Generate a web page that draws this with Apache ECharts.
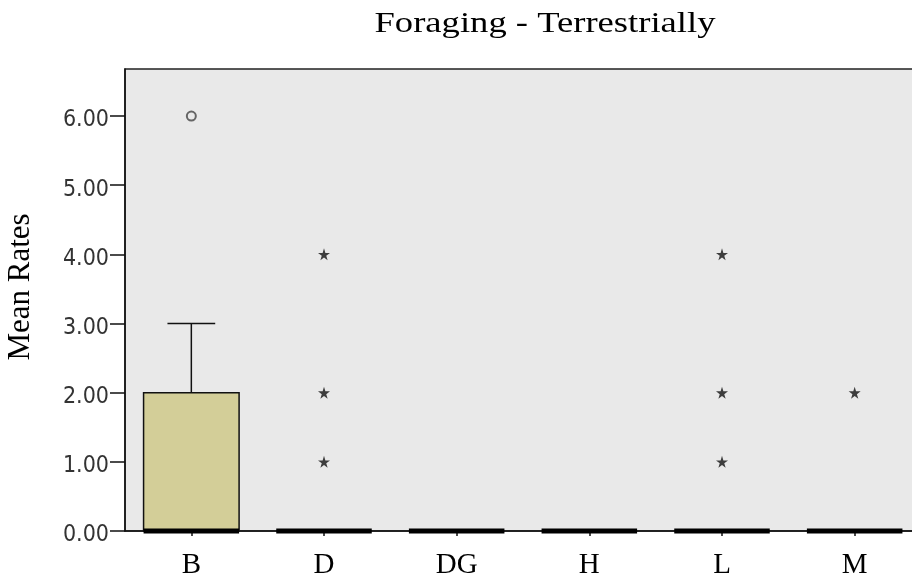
<!DOCTYPE html>
<html>
<head>
<meta charset="utf-8">
<script src="https://cdn.jsdelivr.net/npm/echarts@6/dist/echarts.min.js"></script>
<style>
  html, body { margin: 0; padding: 0; background: #ffffff; overflow: hidden; }
  #chart { width: 930px; height: 580px; }
</style>
</head>
<body>
<div id="chart"></div>
<script>
// Groups on the category axis
const categories = ['B', 'D', 'DG', 'H', 'L', 'M'];

// Box-plot statistics per group
const whiskerLow  = [0, 0, 0, 0, 0, 0];
const q1          = [0, 0, 0, 0, 0, 0];
const median      = [0, 0, 0, 0, 0, 0];
const q3          = [2, 0, 0, 0, 0, 0];
const whiskerHigh = [3, 0, 0, 0, 0, 0];

// Outliers: [group index, value]
const outliers = [[0, 6]];
// Extreme values (stars): [group index, value]
const extremes = [[1, 4], [1, 2], [1, 1], [4, 4], [4, 2], [4, 1], [5, 2]];

// Y tick values
const yTicks = [0, 1, 2, 3, 4, 5, 6];

const STAR = 'path://M50,0 L61,35 L98,35 L68,57 L79,91 L50,70 L21,91 L32,57 L2,35 L39,35 Z';
const SERIF = '"Liberation Serif", "Times New Roman", serif';
const NARROW = '"Liberation Sans Narrow", "Arial Narrow", "DejaVu Sans Condensed", sans-serif';

const boxData = categories.map((c, i) => [i, whiskerLow[i], q1[i], median[i], q3[i], whiskerHigh[i]]);

function renderBox(params, api) {
  const i = api.value(0);
  const wLo = api.value(1), lo = api.value(2), med = api.value(3), hi = api.value(4), wHi = api.value(5);
  const cx = api.coord([i, 0])[0];
  const band = api.size([1, 0])[0];
  const half = band * 0.36;
  const capHalf = half / 2;
  const yLo = api.coord([i, lo])[1];
  const yHi = api.coord([i, hi])[1];
  const yMed = api.coord([i, med])[1];
  const yWLo = api.coord([i, wLo])[1];
  const yWHi = api.coord([i, wHi])[1];
  const children = [];
  if (wHi > hi) {
    children.push({ type: 'line', shape: { x1: cx, y1: yHi, x2: cx, y2: yWHi }, style: { stroke: '#111', lineWidth: 1.5 } });
    children.push({ type: 'line', shape: { x1: cx - capHalf, y1: yWHi, x2: cx + capHalf, y2: yWHi }, style: { stroke: '#111', lineWidth: 1.5 } });
  }
  if (wLo < lo) {
    children.push({ type: 'line', shape: { x1: cx, y1: yLo, x2: cx, y2: yWLo }, style: { stroke: '#111', lineWidth: 1.5 } });
    children.push({ type: 'line', shape: { x1: cx - capHalf, y1: yWLo, x2: cx + capHalf, y2: yWLo }, style: { stroke: '#111', lineWidth: 1.5 } });
  }
  if (hi > lo) {
    children.push({ type: 'rect', shape: { x: cx - half, y: yHi, width: half * 2, height: yLo - yHi },
      style: { fill: '#d3ce98', stroke: '#111', lineWidth: 1.5 } });
  }
  children.push({ type: 'line', shape: { x1: cx - half, y1: yMed, x2: cx + half, y2: yMed },
    style: { stroke: '#000', lineWidth: 5 } });
  return { type: 'group', children: children };
}

const chart = echarts.init(document.getElementById('chart'), null, { renderer: 'canvas' });
chart.setOption({
  animation: false,
  backgroundColor: '#ffffff',
  grid: {
    left: 125, top: 69, right: 9, bottom: 48,
    show: true, backgroundColor: '#e9e9e9', borderColor: '#222', borderWidth: 1.5
  },
  graphic: [
    {
      type: 'text', x: 545, y: 24, scaleX: 1.22, scaleY: 1,
      style: { text: 'Foraging - Terrestrially', font: '30px ' + SERIF,
        fill: '#000', align: 'center', verticalAlign: 'middle' }
    },
    {
      type: 'text', x: 21, y: 287, rotation: Math.PI / 2,
      style: { text: 'Mean Rates', font: '31px ' + SERIF,
        fill: '#000', align: 'center', verticalAlign: 'middle' }
    }
  ],
  xAxis: {
    type: 'category',
    data: categories,
    boundaryGap: true,
    axisLine: { show: true, lineStyle: { color: '#111', width: 1.5 } },
    axisTick: { show: true, alignWithLabel: true, length: 5, lineStyle: { color: '#111', width: 1.5 } },
    axisLabel: { fontFamily: SERIF, fontSize: 29, color: '#000', margin: 20 },
    splitLine: { show: false }
  },
  yAxis: {
    type: 'value',
    min: 0, max: 6.68, interval: 1,
    axisLine: { show: true, lineStyle: { color: '#111', width: 1.5 } },
    axisTick: { show: true, length: 15, customValues: yTicks, lineStyle: { color: '#111', width: 1.5 } },
    axisLabel: {
      customValues: yTicks,
      margin: 16,
      formatter: v => '{t|' + v.toFixed(2) + '}',
      rich: {
        t: { fontFamily: NARROW, fontSize: 23, color: '#333', padding: [9, 0, 0, 0] }
      }
    },
    splitLine: { show: false }
  },
  series: [
    {
      type: 'custom',
      renderItem: renderBox,
      data: boxData,
      encode: { x: 0, y: [1, 2, 3, 4, 5] },
      z: 2
    },
    {
      type: 'scatter',
      data: outliers,
      symbol: 'circle',
      symbolSize: 9,
      itemStyle: { color: '#e9e9e9', borderColor: '#444', borderWidth: 2 },
      z: 3
    },
    {
      type: 'scatter',
      data: extremes,
      symbol: STAR,
      symbolSize: 12,
      itemStyle: { color: '#111' },
      z: 3
    }
  ]
});
</script>
</body>
</html>
